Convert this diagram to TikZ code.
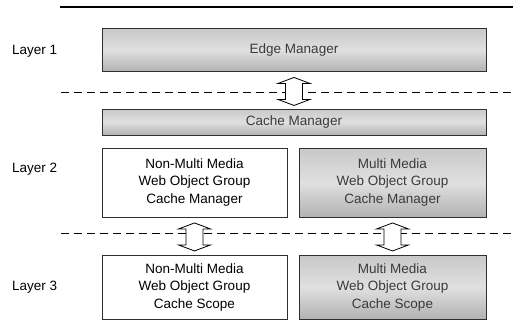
\documentclass[tikz,border=0pt]{standalone}
\usepackage{fontspec}
\setmainfont{Liberation Sans}
\usetikzlibrary{calc}
\definecolor{gtop}{HTML}{C8C8C8}
\definecolor{gmid}{HTML}{E0E0E0}
\definecolor{gbot}{HTML}{B2B2B2}
\definecolor{gtext}{HTML}{3A3A3A}
\definecolor{edgecol}{HTML}{303030}
\tikzset{
  box/.style={draw=edgecol, line width=0.9pt, inner sep=0pt, align=center,
    font=\fontsize{13.5}{17.5}\selectfont},
  graybox/.style={box, top color=gtop, bottom color=gbot, middle color=gmid, text=gtext},
  whitebox/.style={box, fill=white, text=black},
  layerlbl/.style={font=\fontsize{13.5}{18}\selectfont, anchor=west, inner sep=0pt},
  sepline/.style={dashed, dash pattern=on 8pt off 5pt, line width=0.8pt},
  dblarr/.style={draw=black, fill=white, line width=0.8pt, line join=miter}
}
\newcommand\twoarrow[1]{%
  \draw[dblarr] ($(#1.south)+(0,5.5)$) -- ++(16,6) -- ++(-7.5,0) -- ++(0,16) -- ++(7.5,0)
     -- ++(-16,6) -- ++(-16,-6) -- ++(7.5,0) -- ++(0,-16) -- ++(-7.5,0) -- cycle;}
\begin{document}
\begin{tikzpicture}[x=1pt,y=-1pt]
\useasboundingbox (0,0) rectangle (513,335);
% top rule
\coordinate (tl) at (60,7);
\coordinate (tr) at (513,7);
\draw[line width=2.2pt] (tl) -- (tr);
% boxes
\node[graybox, minimum width=384pt, minimum height=43pt] (edge) at (294,50) {Edge Manager};
\node[graybox, minimum width=384pt, minimum height=26pt] (cache) at (294,122) {Cache Manager};
\node[whitebox, minimum width=185pt, minimum height=69pt] (nm2) at (194.5,182.5)
  {Non-Multi Media\\Web Object Group\\Cache Manager};
\node[graybox, minimum width=187pt, minimum height=69pt] (mm2) at (392.5,182.5)
  {Multi Media\\Web Object Group\\Cache Manager};
\node[whitebox, minimum width=185pt, minimum height=64pt] (nm3) at (194.5,287)
  {\raisebox{-3pt}{\begin{tabular}{@{}c@{}}Non-Multi Media\\Web Object Group\\Cache Scope\end{tabular}}};
\node[graybox, minimum width=187pt, minimum height=64pt] (mm3) at (392.5,287)
  {\raisebox{-3pt}{\begin{tabular}{@{}c@{}}Multi Media\\Web Object Group\\Cache Scope\end{tabular}}};
% layer labels
\node[layerlbl] (l1) at (12,51) {Layer 1};
\node[layerlbl] (l2) at (12,169) {Layer 2};
\node[layerlbl] (l3) at (12,287) {Layer 3};
% dashed separators
\coordinate (d1l) at (61,92.5);  \coordinate (d1r) at (513,92.5);
\coordinate (d2l) at (61,233.5); \coordinate (d2r) at (513,233.5);
\draw[sepline] (d1l) -- (d1r);
\draw[sepline] (d2l) -- (d2r);
% double arrows
\twoarrow{edge}
\twoarrow{nm2}
\twoarrow{mm2}
\end{tikzpicture}
\end{document}
